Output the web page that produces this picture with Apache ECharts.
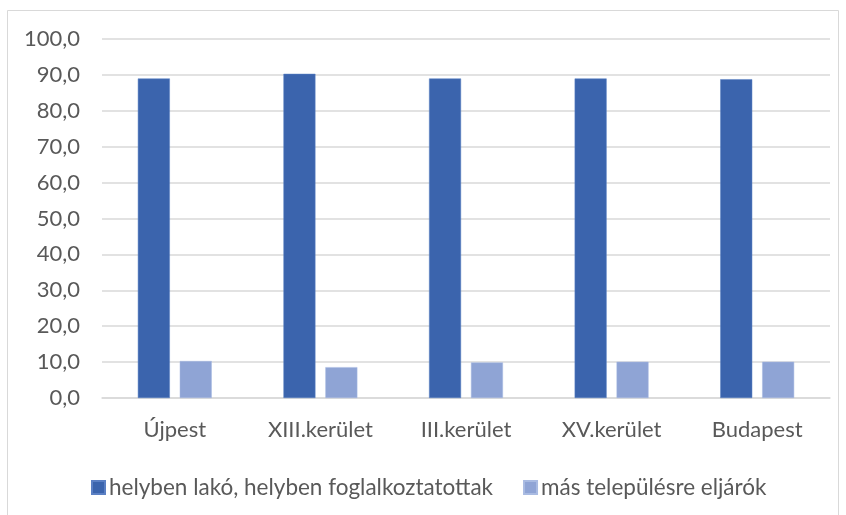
<!DOCTYPE html>
<html>
<head>
<meta charset="utf-8">
<script src="https://cdn.jsdelivr.net/npm/echarts@6/dist/echarts.min.js"></script>
<style>
  html, body { margin: 0; padding: 0; background: #fff; }
  #chart { width: 846px; height: 515px; }
</style>
</head>
<body>
<div id="chart"></div>
<script>
const categories = ['Újpest', 'XIII.kerület', 'III.kerület', 'XV.kerület', 'Budapest']
const helybenValues = [89.0, 90.3, 89.0, 89.0, 88.8]
const eljarokValues = [10.3, 8.6, 9.9, 10.1, 10.1]
const seriesNames = ['helyben lakó, helyben foglalkoztatottak', 'más településre eljárók']

const chart = echarts.init(document.getElementById('chart'))

const labelFont = 'Lato, sans-serif'

const option = {
  backgroundColor: '#fff',
  animation: false,
  grid: {
    left: 102,
    right: 16,
    top: 39,
    bottom: 117
  },
  graphic: [{
    type: 'rect',
    shape: { x: 7.5, y: 10.5, width: 831, height: 510 },
    style: { fill: 'none', stroke: '#d9d9d9', lineWidth: 1 },
    silent: true
  }],
  legend: {
    top: 471,
    left: 86,
    itemWidth: 13,
    itemHeight: 13,
    itemGap: 30,
    icon: 'rect',
    textStyle: { color: '#595959', fontSize: 22.5, fontFamily: labelFont, padding: [0, 0, 0, -1] },
    data: seriesNames
  },
  xAxis: {
    type: 'category',
    data: categories,
    axisLine: { lineStyle: { color: '#d9d9d9', width: 1.5 } },
    axisTick: { show: false },
    axisLabel: { color: '#595959', fontSize: 22, fontFamily: labelFont, margin: 21 }
  },
  yAxis: {
    type: 'value',
    min: 0,
    max: 100,
    interval: 10,
    axisLine: { show: false },
    axisTick: { show: false },
    splitLine: { lineStyle: { color: '#d9d9d9', width: 1.5 } },
    axisLabel: {
      color: '#595959',
      fontSize: 22,
      fontFamily: labelFont,
      margin: 22,
      formatter: v => v.toFixed(1).replace('.', ',')
    }
  },
  series: [{
    name: seriesNames[0],
    type: 'bar',
    data: helybenValues,
    barWidth: 32,
    barGap: '31%',
    itemStyle: { color: '#3b64ad', borderColor: '#5b80c4', borderWidth: 0.5 }
  }, {
    name: seriesNames[1],
    type: 'bar',
    data: eljarokValues,
    barWidth: 32,
    itemStyle: { color: '#8fa4d5', borderColor: '#a9bbe2', borderWidth: 0.5 }
  }]
}

chart.setOption(option)
</script>
</body>
</html>
